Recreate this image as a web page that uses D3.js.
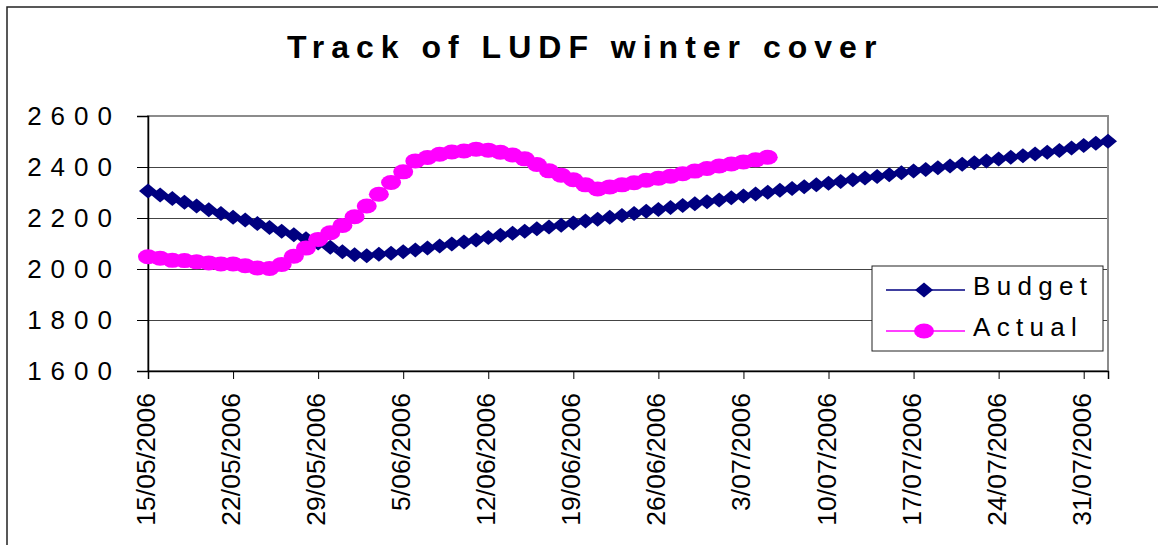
<!DOCTYPE html>
<html>
<head>
<meta charset="utf-8">
<script src="https://cdn.jsdelivr.net/npm/d3@7"></script>
<style>
  body { margin: 0; background: #fff; }
  text { font-family: "Liberation Sans", Arial, sans-serif; }
</style>
</head>
<body>
<div id="chart"></div>
<script>
// ---- data ----
var startDate = "15/05/2006",
    endDate = "02/08/2006";

var tickLabels = ["15/05/2006", "22/05/2006", "29/05/2006", "5/06/2006", "12/06/2006",
                  "19/06/2006", "26/06/2006", "3/07/2006", "10/07/2006", "17/07/2006",
                  "24/07/2006", "31/07/2006"];

var yTicks = [1600, 1800, 2000, 2200, 2400, 2600];

// one value per day from 15/05/2006
var budget = [2306, 2290, 2276, 2262, 2247, 2232, 2218, 2203, 2192, 2178,
              2163, 2148, 2134, 2119, 2102, 2085, 2068, 2056, 2052, 2058,
              2062, 2068, 2075, 2082, 2090, 2098, 2106, 2114, 2124, 2132,
              2140, 2148, 2158, 2165, 2172, 2180, 2188, 2195, 2203, 2210,
              2218, 2226, 2233, 2241, 2249, 2256, 2264, 2271, 2279, 2286,
              2294, 2301, 2309, 2316, 2323, 2330, 2336, 2343, 2350, 2357,
              2363, 2370, 2377, 2384, 2390, 2397, 2404, 2411, 2417, 2424,
              2431, 2438, 2444, 2451, 2458, 2465, 2475, 2484, 2493, 2501];

var actual = [2048, 2042, 2034, 2033, 2028, 2024, 2020, 2020, 2013, 2004,
              2002, 2018, 2050, 2082, 2116, 2142, 2171, 2205, 2247, 2293,
              2339, 2381, 2424, 2437, 2450, 2459, 2463, 2470, 2466, 2458,
              2447, 2432, 2410, 2385, 2368, 2350, 2330, 2314, 2322, 2330,
              2338, 2348, 2356, 2364, 2374, 2384, 2394, 2404, 2412, 2420,
              2428, 2438];

// ---- setup ----
var width = 1158,
    height = 545,
    margin = {left: 148, top: 116, right: 50, bottom: 174},
    parseDate = d3.timeParse("%d/%m/%Y"),
    fmtDate = d3.timeFormat("%-d/%m/%Y");

var t0 = parseDate(startDate),
    t1 = parseDate(endDate),
    days = d3.timeDay.range(t0, d3.timeDay.offset(t1, 1));

var budgetData = budget.map(function(v, i){ return {date: days[i], value: v}; }),
    actualData = actual.map(function(v, i){ return {date: days[i], value: v}; });

var svg = d3.select("#chart")
            .append("svg")
            .attr("width", width)
            .attr("height", height);

// outer chart frame
svg.append("rect")
    .attr("x", 7).attr("y", 7)
    .attr("width", 1165).attr("height", 560)
    .attr("fill", "none")
    .attr("stroke", "#222")
    .attr("stroke-width", 1.5);

var xScale = d3.scaleTime()
                .domain([t0, t1])
                .range([margin.left, width - margin.right]);

var yScale = d3.scaleLinear()
                .domain([1600, 2600])
                .range([height - margin.bottom, margin.top]);

// gridlines
svg.append("g")
    .attr("transform", "translate(" + margin.left + ",0)")
    .call(d3.axisLeft(yScale).tickValues(yTicks.slice(1, -1))
            .tickSize(-(width - margin.right - margin.left)).tickFormat(""))
    .call(function(g){
        g.select(".domain").remove();
        g.selectAll("line").attr("stroke", "#444");
    });

// plot area border
svg.append("rect")
    .attr("x", margin.left).attr("y", margin.top)
    .attr("width", width - margin.right - margin.left)
    .attr("height", height - margin.bottom - margin.top)
    .attr("fill", "none")
    .attr("stroke", "#8c8c8c")
    .attr("stroke-width", 2);

// y axis
svg.append("g")
    .attr("transform", "translate(" + margin.left + ",0)")
    .call(d3.axisLeft(yScale).tickValues(yTicks).tickSize(11).tickPadding(16)
            .tickFormat(d3.format("d")))
    .call(function(g){
        g.select(".domain").attr("stroke", "#000").attr("stroke-width", 1.5);
        g.selectAll("line").attr("stroke", "#000");
        g.selectAll("text")
            .attr("font-size", 26)
            .attr("letter-spacing", 9)
            .attr("fill", "#000")
            .style("font-family", "'Liberation Sans', Arial, sans-serif");
    });

// x axis
svg.append("g")
    .attr("transform", "translate(0," + (height - margin.bottom) + ")")
    .call(d3.axisBottom(xScale).tickValues(tickLabels.map(parseDate))
            .tickSize(8).tickFormat(fmtDate))
    .call(function(g){
        g.select(".domain").attr("stroke", "#000").attr("stroke-width", 1.5);
        g.selectAll("line").attr("stroke", "#000");
        g.selectAll("text")
            .attr("font-size", 26.5)
            .attr("fill", "#000")
            .attr("text-anchor", "end")
            .attr("dy", null)
            .attr("x", 0)
            .attr("y", 6.5)
            .attr("transform", "translate(0,22) rotate(-90)")
            .style("font-family", "'Liberation Sans', Arial, sans-serif");
    });

// series
var line = d3.line()
                .x(function(d){ return xScale(d.date); })
                .y(function(d){ return yScale(d.value); });

var diamond = "M0,-7.5L9,0L0,7.5L-9,0Z";

svg.append("path")
    .datum(budgetData)
    .attr("fill", "none")
    .attr("stroke", "#000080")
    .attr("stroke-width", 1.5)
    .attr("d", line);

svg.append("g").selectAll("path")
    .data(budgetData)
    .enter()
    .append("path")
        .attr("d", diamond)
        .attr("transform", function(d){ return "translate(" + xScale(d.date) + "," + yScale(d.value) + ")"; })
        .attr("fill", "#000080");

svg.append("path")
    .datum(actualData)
    .attr("fill", "none")
    .attr("stroke", "#ff00ff")
    .attr("stroke-width", 1.5)
    .attr("d", line);

svg.append("g").selectAll("ellipse")
    .data(actualData)
    .enter()
    .append("ellipse")
        .attr("cx", function(d){ return xScale(d.date); })
        .attr("cy", function(d){ return yScale(d.value); })
        .attr("rx", 10)
        .attr("ry", 7.5)
        .attr("fill", "#ff00ff");

// title
svg.append("text")
    .attr("x", 287)
    .attr("y", 58)
    .attr("font-size", 32)
    .attr("font-weight", "bold")
    .attr("letter-spacing", 7)
    .text("Track of LUDF winter cover");

// legend
var legend = svg.append("g").attr("transform", "translate(872,266)");

legend.append("rect")
    .attr("width", 231).attr("height", 85)
    .attr("fill", "#fff")
    .attr("stroke", "#222")
    .attr("stroke-width", 1);

var items = [{name: "Budget", color: "#000080", y: 24, shape: "diamond"},
             {name: "Actual", color: "#ff00ff", y: 65, shape: "circle"}];

items.forEach(function(it){
    legend.append("line")
        .attr("x1", 14).attr("x2", 93)
        .attr("y1", it.y).attr("y2", it.y)
        .attr("stroke", it.color)
        .attr("stroke-width", 1.5);
    if (it.shape == "diamond") {
        legend.append("path")
            .attr("d", diamond)
            .attr("transform", "translate(52," + it.y + ")")
            .attr("fill", it.color);
    } else {
        legend.append("ellipse")
            .attr("cx", 52).attr("cy", it.y)
            .attr("rx", 10).attr("ry", 7.5)
            .attr("fill", it.color);
    }
    legend.append("text")
        .attr("x", 101)
        .attr("y", it.y + 5)
        .attr("font-size", 26)
        .attr("letter-spacing", 6.3)
        .text(it.name);
});
</script>
</body>
</html>
